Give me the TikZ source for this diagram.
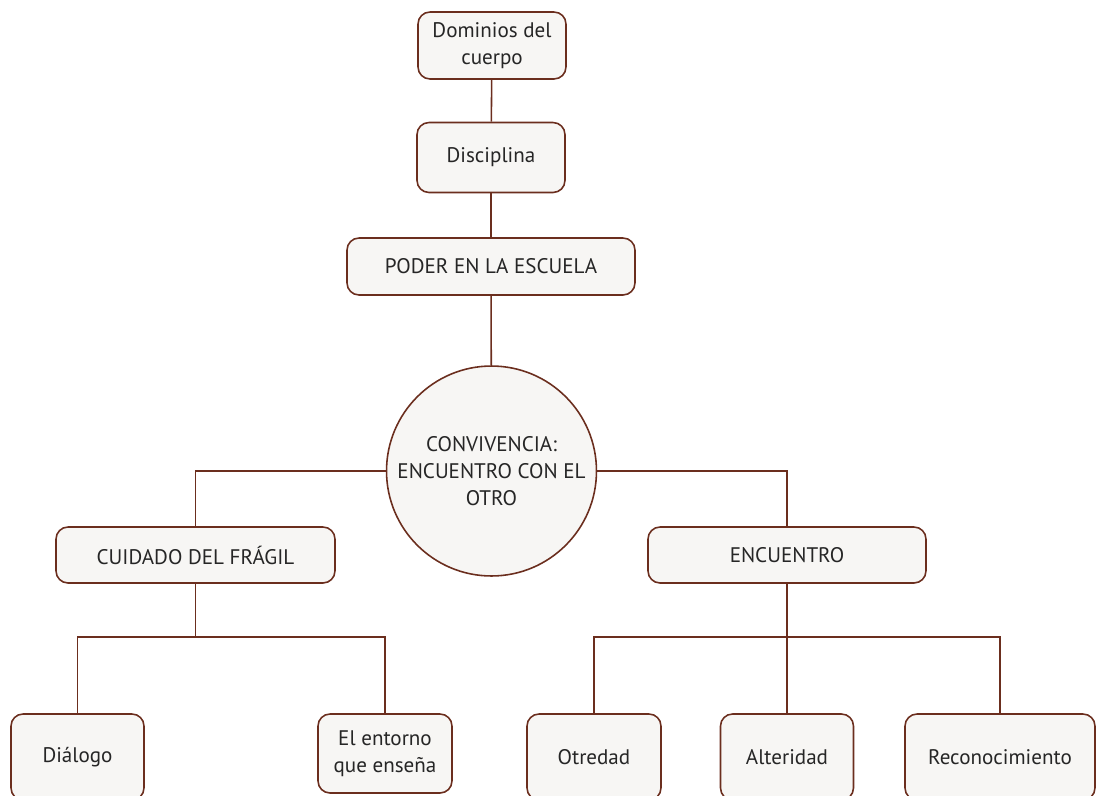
\documentclass[tikz,border=0pt]{standalone}
\usepackage{fontspec}
\setmainfont{PT Sans}
\definecolor{rim}{HTML}{6B2E1E}
\definecolor{paper}{HTML}{F7F6F4}
\definecolor{ink}{HTML}{262626}
\begin{document}
\begin{tikzpicture}[x=0.02cm, y=-0.02cm,
        box/.style={draw=rim, fill=paper, line width=0.9pt, rounded corners=0.24cm,
            align=center, text=ink, inner sep=0pt, font=\fontsize{12}{15.5}\selectfont},
        hub/.style={circle, draw=rim, fill=paper, line width=0.9pt, align=center,
            text=ink, inner sep=0pt, minimum size=4.2cm, font=\fontsize{12}{15.5}\selectfont},
        link/.style={draw=rim, line width=0.9pt},
    ]
    \useasboundingbox (0,0) rectangle (1096,795);
    \clip (0,0) rectangle (1096,795);

    \node[box, minimum width=2.96cm, minimum height=1.34cm] (dom) at (492,45.5) {Dominios del\\cuerpo};
    \node[box, minimum width=2.96cm, minimum height=1.40cm] (dis) at (491,157.5) {Disciplina};
    \node[box, minimum width=5.76cm, minimum height=1.14cm] (poder) at (491,266.5) {PODER EN LA ESCUELA};
    \node[hub] (conv) at (491.5,471) {CONVIVENCIA:\\ENCUENTRO CON EL\\OTRO};

    \node[box, minimum width=5.58cm, minimum height=1.12cm] (cuid) at (195.5,555) {CUIDADO DEL FRÁGIL};
    \node[box, minimum width=5.56cm, minimum height=1.12cm] (enc) at (787,555) {ENCUENTRO};

    \node[box, minimum width=2.66cm, minimum height=1.72cm] (dia) at (77.5,757) {Diálogo};
    \node[box, minimum width=2.68cm, minimum height=1.58cm] (ent) at (385,753.5) {El entorno\\que enseña};
    \node[box, minimum width=2.68cm, minimum height=1.72cm] (otr) at (594,757) {Otredad};
    \node[box, minimum width=2.66cm, minimum height=1.72cm] (alt) at (787,757) {Alteridad};
    \node[box, minimum width=3.80cm, minimum height=1.72cm] (rec) at (1000,757) {Reconocimiento};

    \coordinate (lj) at (195.5,637);
    \coordinate (rj) at (787,637);

    \path[link] (dom) -- (dis);
    \path[link] (dis) -- (poder);
    \path[link] (poder) -- (conv);
    \path[link] (conv.west) -| (cuid.north);
    \path[link] (conv.east) -| (enc.north);
    \path[link] (cuid.south) -- (lj);
    \path[link] (lj) -| (dia.north);
    \path[link] (lj) -| (ent.north);
    \path[link] (enc.south) -- (alt.north);
    \path[link] (rj) -| (otr.north);
    \path[link] (rj) -| (rec.north);
\end{tikzpicture}
\end{document}
